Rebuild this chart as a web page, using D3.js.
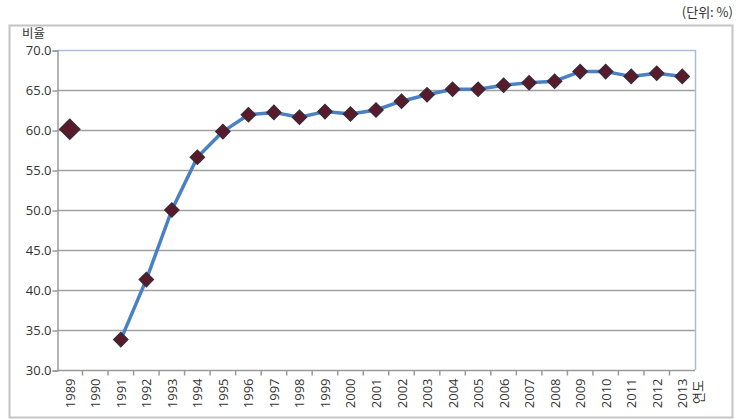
<!DOCTYPE html>
<html>
<head>
<meta charset="utf-8">
<script src="https://cdn.jsdelivr.net/npm/d3@7"></script>
<style>
body { margin: 0; background: #fff; }
svg text { font-family: "Noto Sans CJK KR", "Noto Sans", sans-serif; fill: #333; }
</style>
</head>
<body>
<div class="chart"></div>
<script>
var years = ["1989","1990","1991","1992","1993","1994","1995","1996","1997","1998","1999","2000","2001",
			 "2002","2003","2004","2005","2006","2007","2008","2009","2010","2011","2012","2013"];
var ratio = [60.1, null, 33.8, 41.3, 50.0, 56.6, 59.8, 61.9, 62.2, 61.6, 62.3, 62.0, 62.5,
			 63.6, 64.4, 65.1, 65.1, 65.6, 65.9, 66.1, 67.3, 67.3, 66.7, 67.1, 66.7];
var yTicks = [30, 35, 40, 45, 50, 55, 60, 65, 70];

var W = 739, H = 420;
var pLeft = 57, pRight = 695, pTop = 50, pBottom = 370;

var svg = d3.select(".chart").append("svg")
			.attr("width", W)
			.attr("height", H);

// outer frame
svg.append("rect")
   .attr("x", 9.5).attr("y", 25.5)
   .attr("width", 723).attr("height", 392)
   .style("fill", "none")
   .style("stroke", "#c4c4c4")
   .style("stroke-width", 2);

svg.append("text")
   .attr("x", 733).attr("y", 17)
   .attr("text-anchor", "end")
   .style("font-size", "13px")
   .text("(단위:  %)");

var x = d3.scaleBand().domain(years).range([pLeft, pRight]);
var y = d3.scaleLinear().domain([30, 70]).range([pBottom, pTop]);

// gridlines
svg.append("g")
   .selectAll("line")
   .data(yTicks.slice(1, -1))
   .enter().append("line")
   .attr("x1", pLeft).attr("x2", pRight)
   .attr("y1", function(d) { return y(d) + 0.5; })
   .attr("y2", function(d) { return y(d) + 0.5; })
   .style("stroke", "#a0a0a0")
   .style("stroke-width", 1.5);

// plot border top & right (light blue)
svg.append("path")
   .attr("d", "M" + pLeft + "," + (pTop + 0.5) + "H" + (pRight + 0.5) + "V" + pBottom)
   .style("fill", "none")
   .style("stroke", "#a9bfd8")
   .style("stroke-width", 1.5);

// y axis
var yAxis = svg.append("g")
			   .attr("transform", "translate(" + (pLeft + 0.5) + ",0.5)")
			   .call(d3.axisLeft(y).tickValues(yTicks).tickSize(5).tickFormat(d3.format(".1f")));
yAxis.selectAll("path, line").style("stroke", "#9a9a9a").style("stroke-width", 1.5);
yAxis.selectAll("text").style("font-size", "13px").style("font-family", "'Open Sans', 'Noto Sans', sans-serif").attr("x", -6);

// x axis
var xAxis = svg.append("g")
			   .attr("transform", "translate(0," + (pBottom + 0.5) + ")");
xAxis.append("line")
	 .attr("x1", pLeft).attr("x2", pRight)
	 .style("stroke", "#9a9a9a").style("stroke-width", 1.5);
xAxis.selectAll(".tk")
	 .data(years.slice(1))
	 .enter().append("line")
	 .attr("x1", function(d) { return x(d); })
	 .attr("x2", function(d) { return x(d); })
	 .attr("y1", 0).attr("y2", 5)
	 .style("stroke", "#9a9a9a").style("stroke-width", 1.5);
xAxis.selectAll("text")
	 .data(years)
	 .enter().append("text")
	 .attr("transform", function(d) {
	 	return "translate(" + (x(d) + x.bandwidth() / 2 + 5) + ",8) rotate(-90)";
	 })
	 .attr("text-anchor", "end")
	 .style("font-size", "13px")
	 .style("font-family", "'Open Sans', 'Noto Sans', sans-serif")
	 .text(function(d) { return d; });

svg.append("text")
   .attr("x", 22).attr("y", 38)
   .style("font-size", "12.5px")
   .text("비율");

svg.append("text")
   .attr("transform", "translate(" + 703 + "," + 380 + ") rotate(-90)")
   .attr("text-anchor", "end")
   .style("font-size", "13px")
   .text("연도");

var pts = years.map(function(d, i) { return {year: d, v: ratio[i]}; });

var line = d3.line()
			 .defined(function(d) { return d.v != null; })
			 .x(function(d) { return x(d.year) + x.bandwidth() / 2; })
			 .y(function(d) { return y(d.v); });

svg.append("path")
   .datum(pts.slice(1))
   .attr("d", line)
   .style("fill", "none")
   .style("stroke", "#4a80c4")
   .style("stroke-width", 3.5)
   .style("stroke-linejoin", "round");

svg.append("g")
   .selectAll("path")
   .data(pts.filter(function(d) { return d.v != null; }))
   .enter().append("path")
   .attr("transform", function(d) {
   	return "translate(" + (x(d.year) + x.bandwidth() / 2) + "," + y(d.v) + ")";
   })
   .attr("d", function(d, i) {
   	var s = i == 0 ? 10 : 7;
   	return "M0," + (-s) + "L" + s + ",0L0," + s + "L" + (-s) + ",0Z";
   })
   .style("fill", "#5a1a2a")
   .style("stroke", "#3a2a3a")
   .style("stroke-width", 1.5);
</script>
</body>
</html>
